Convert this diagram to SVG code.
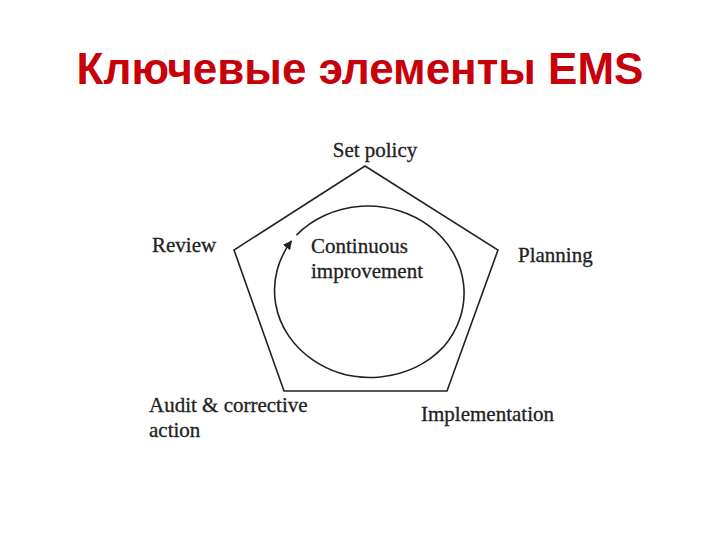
<svg xmlns="http://www.w3.org/2000/svg" width="720" height="540" viewBox="0 0 720 540">
<style>
.t{font-family:"Liberation Serif","Times New Roman",serif;font-size:21px;fill:#222;stroke:#222;stroke-width:0.3}
.title{font-family:"Liberation Sans",Arial,sans-serif;font-weight:bold;font-size:44px;fill:#c8000a}
.ln{fill:none;stroke:#222;stroke-width:1.6}
</style>
<defs>
<marker id="ah" viewBox="0 0 10 10" refX="9" refY="5" markerWidth="9" markerHeight="9" markerUnits="userSpaceOnUse" orient="auto">
<path d="M0,0 L10,5 L0,10 z" fill="#222"/>
</marker>
</defs>
<rect width="720" height="540" fill="#fff"/>
<text class="title" x="360" y="84" text-anchor="middle">Ключевые элементы EMS</text>
<g id="pentagon">
<polygon class="ln" points="365,166 498,250 447,391 284,391 234,250"/>
</g>
<g id="connectors">
<path class="ln" d="M296.5,235.1 A96,87 0 0 1 443.5,346.9 A96,87 0 0 1 291.4,241.1" marker-end="url(#ah)"/>
</g>
<g id="set-policy"><text class="t" x="375" y="157" text-anchor="middle">Set policy</text></g>
<g id="planning"><text class="t" x="518" y="262">Planning</text></g>
<g id="implementation"><text class="t" x="421" y="421">Implementation</text></g>
<g id="audit"><text class="t" x="149" y="412">Audit &amp; corrective</text><text class="t" x="149" y="437">action</text></g>
<g id="review"><text class="t" x="152" y="252">Review</text></g>
<g id="continuous"><text class="t" x="311" y="253">Continuous</text><text class="t" x="311" y="278">improvement</text></g>
</svg>
